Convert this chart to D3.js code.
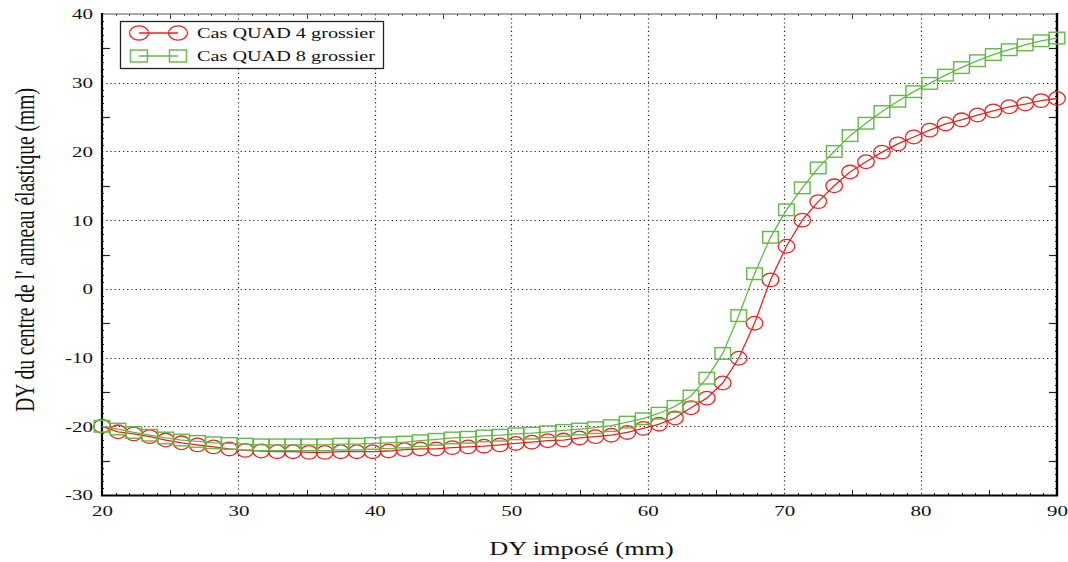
<!DOCTYPE html>
<html><head><meta charset="utf-8">
<script src="https://cdn.jsdelivr.net/npm/d3@7"></script>
<style>html,body{margin:0;padding:0;background:#fff;}svg{display:block;}</style>
</head><body>
<svg id="c" width="1068" height="562"></svg>
<script>
const xValues = [20,21.17,22.33,23.5,24.67,25.83,27,28.17,29.33,30.5,31.67,32.83,34,35.17,36.33,37.5,38.67,39.83,41,42.17,43.33,44.5,45.67,46.83,48,49.17,50.33,51.5,52.67,53.83,55,56.17,57.33,58.5,59.67,60.83,62,63.17,64.33,65.5,66.67,67.83,69,70.17,71.33,72.5,73.67,74.83,76,77.17,78.33,79.5,80.67,81.83,83,84.17,85.33,86.5,87.67,88.83,90];
const quad4 = [-20.0,-20.8,-21.1,-21.5,-22.0,-22.4,-22.7,-23.0,-23.3,-23.5,-23.6,
  -23.7,-23.7,-23.8,-23.8,-23.7,-23.7,-23.7,-23.6,-23.4,-23.3,
  -23.3,-23.1,-23.0,-22.9,-22.7,-22.5,-22.3,-22.1,-22.0,-21.7,
  -21.5,-21.3,-20.9,-20.3,-19.7,-18.8,-17.3,-15.9,-13.7,-10.1,
  -5.0,1.3,6.2,10.0,12.7,15.0,17.0,18.5,19.9,21.1,
  22.1,23.1,24.0,24.6,25.3,25.9,26.5,26.9,27.4,27.7];
const quad8 = [-20.0,-20.4,-20.9,-21.3,-21.7,-22.0,-22.2,-22.4,-22.5,-22.6,-22.7,
  -22.7,-22.7,-22.7,-22.7,-22.6,-22.6,-22.5,-22.4,-22.3,-22.1,
  -21.9,-21.7,-21.6,-21.4,-21.3,-21.1,-21.0,-20.8,-20.6,-20.4,
  -20.2,-19.9,-19.4,-18.9,-18.1,-17.1,-15.6,-13.0,-9.4,-3.9,
  2.2,7.5,11.5,14.7,17.6,20.0,22.3,24.1,25.8,27.3,
  28.7,29.9,31.1,32.2,33.2,34.1,34.8,35.5,36.1,36.5];
const seriesNames = ["Cas QUAD 4 grossier","Cas QUAD 8 grossier"];
const xTicks = [20,30,40,50,60,70,80,90];
const yTicks = [-30,-20,-10,0,10,20,30,40];
const xTitle = "DY imposé (mm)";
const yTitle = "DY du centre de l' anneau élastique (mm)";

const SX = 1.35; // horizontal stretch of the original picture
const RED = "#f02020", GREEN = "#62b946";
const FONT = "'Liberation Serif','Times New Roman',serif";
const L = 102, R = 1057, T = 14, B = 495;
const svg = d3.select("#c");
const x = d3.scaleLinear().domain([20,90]).range([L,R]);
const y = d3.scaleLinear().domain([-30,40]).range([B,T]);

// grid
const g = svg.append("g");
g.selectAll(".gx").data(xTicks.filter(v=>v>20&&v<90)).enter().append("line")
  .attr("x1",d=>Math.round(x(d))+0.5).attr("x2",d=>Math.round(x(d))+0.5).attr("y1",T).attr("y2",B)
  .attr("stroke","#222").attr("stroke-width",1.2).attr("stroke-dasharray","1.2,3");
g.selectAll(".gy").data(yTicks.filter(v=>v>-30&&v<40)).enter().append("line")
  .attr("y1",d=>Math.round(y(d))+0.5).attr("y2",d=>Math.round(y(d))+0.5).attr("x1",L).attr("x2",R)
  .attr("stroke","#222").attr("stroke-width",1.2).attr("stroke-dasharray","1.2,3");

// minor ticks
const minorX = d3.range(20,91,1), minorY = d3.range(-30,41,1);
minorX.forEach(v=>{
  const len = v%10===0?0:(v%5===0?5:2);
  if(!len) return;
  const px = Math.round(x(v))+0.5;
  g.append("line").attr("x1",px).attr("x2",px).attr("y1",B).attr("y2",B-len).attr("stroke","#222").attr("stroke-width",1);
  g.append("line").attr("x1",px).attr("x2",px).attr("y1",T).attr("y2",T+len).attr("stroke","#444").attr("stroke-width",1);
});
minorY.forEach(v=>{
  const len = v%10===0?0:(v%5===0?8:2);
  if(!len) return;
  const py = Math.round(y(v))+0.5;
  g.append("line").attr("y1",py).attr("y2",py).attr("x1",L).attr("x2",L+len).attr("stroke","#222").attr("stroke-width",1.2);
  g.append("line").attr("y1",py).attr("y2",py).attr("x1",R).attr("x2",R-len).attr("stroke","#222").attr("stroke-width",1.2);
});

// frame
svg.append("line").attr("x1",L).attr("x2",R).attr("y1",T).attr("y2",T).attr("stroke","#555").attr("stroke-width",1.2);
svg.append("line").attr("x1",L).attr("x2",L).attr("y1",T-1).attr("y2",B+1).attr("stroke","#000").attr("stroke-width",2.2);
svg.append("line").attr("x1",R).attr("x2",R).attr("y1",T-1).attr("y2",B+1).attr("stroke","#000").attr("stroke-width",2.4);
svg.append("line").attr("x1",L-1).attr("x2",R+1).attr("y1",B+0.5).attr("y2",B+0.5).attr("stroke","#000").attr("stroke-width",2.2);

// axes via d3 (labels only)
const fmt = d => String(d);
const xa = svg.append("g").attr("transform",`translate(0,${B})`)
  .call(d3.axisBottom(x).tickValues(xTicks).tickSize(0).tickPadding(10).tickFormat(fmt));
xa.select(".domain").remove();
xa.selectAll("text").attr("font-family",FONT).attr("font-size",15.5).attr("fill","#111")
  .attr("transform",`scale(${SX},1)`).attr("x",0).attr("dy","0.71em");
const ya = svg.append("g").attr("transform",`translate(${L},0)`)
  .call(d3.axisLeft(y).tickValues(yTicks).tickSize(0).tickPadding(0).tickFormat(fmt));
ya.select(".domain").remove();
ya.selectAll("text").attr("font-family",FONT).attr("font-size",15.5).attr("fill","#111")
  .attr("x",-9/SX).attr("transform",`scale(${SX},1)`);

// titles
svg.append("text").attr("transform",`translate(${(L+R)/2+2},555) scale(${SX},1)`)
  .attr("text-anchor","middle").attr("font-family",FONT).attr("font-size",19.5).attr("fill","#111").text(xTitle);
svg.append("text").attr("transform",`translate(34,250) scale(${SX},1) rotate(-90)`)
  .attr("text-anchor","middle").attr("font-family",FONT).attr("font-size",19.5).attr("fill","#111").text(yTitle);

// series
const series = [
  {name:seriesNames[0], vals:quad4, color:RED, shape:"circle"},
  {name:seriesNames[1], vals:quad8, color:GREEN, shape:"square"}
];
const line = d3.line().x(d=>x(d[0])).y(d=>y(d[1]));
series.forEach(s=>{
  const pts = xValues.map((xv,i)=>[xv,s.vals[i]]);
  const sg = svg.append("g");
  sg.append("path").attr("d",line(pts)).attr("fill","none").attr("stroke",s.color).attr("stroke-width",1.3);
  if(s.shape==="circle"){
    sg.selectAll("ellipse").data(pts).enter().append("ellipse")
      .attr("cx",d=>x(d[0])).attr("cy",d=>y(d[1])).attr("rx",8.3).attr("ry",6.8)
      .attr("fill","none").attr("stroke",s.color).attr("stroke-width",1.3);
  } else {
    sg.selectAll("rect").data(pts).enter().append("rect")
      .attr("x",d=>x(d[0])-7.8).attr("y",d=>y(d[1])-5.8).attr("width",15.6).attr("height",11.6)
      .attr("fill","none").attr("stroke",s.color).attr("stroke-width",1.4);
  }
});

// legend
const lg = svg.append("g");
lg.append("rect").attr("x",120.5).attr("y",21.5).attr("width",263).attr("height",47)
  .attr("fill","#fff").attr("stroke","#222").attr("stroke-width",1.3);
series.forEach((s,i)=>{
  const cy = 33 + i*23;
  lg.append("line").attr("x1",139).attr("x2",178).attr("y1",cy).attr("y2",cy).attr("stroke",s.color).attr("stroke-width",1.3);
  [139,178].forEach(cx=>{
    if(s.shape==="circle") lg.append("ellipse").attr("cx",cx).attr("cy",cy).attr("rx",9.5).attr("ry",7.2)
      .attr("fill","none").attr("stroke",s.color).attr("stroke-width",1.3);
    else lg.append("rect").attr("x",cx-8.5).attr("y",cy-6).attr("width",17).attr("height",12)
      .attr("fill","none").attr("stroke",s.color).attr("stroke-width",1.4);
  });
  lg.append("text").attr("transform",`translate(197,${cy+5}) scale(${SX},1)`)
    .attr("font-family",FONT).attr("font-size",15).attr("fill","#111").text(s.name);
});
</script>
</body></html>
